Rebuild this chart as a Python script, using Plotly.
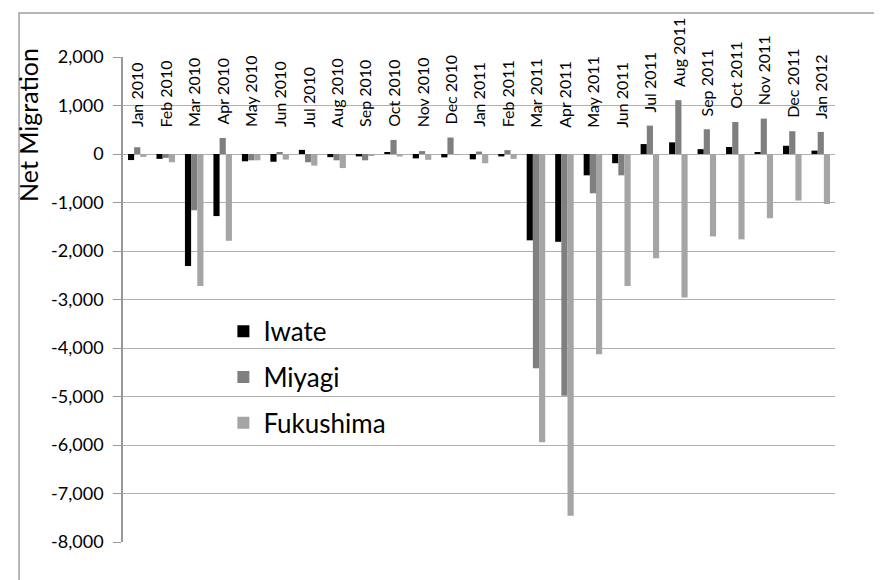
import plotly.graph_objects as go

months = ["Jan 2010", "Feb 2010", "Mar 2010", "Apr 2010", "May 2010", "Jun 2010",
          "Jul 2010", "Aug 2010", "Sep 2010", "Oct 2010", "Nov 2010", "Dec 2010",
          "Jan 2011", "Feb 2011", "Mar 2011", "Apr 2011", "May 2011", "Jun 2011",
          "Jul 2011", "Aug 2011", "Sep 2011", "Oct 2011", "Nov 2011", "Dec 2011",
          "Jan 2012"]
iwate = [-125, -100, -2310, -1280, -150, -160, 85, -65, -50, 40, -90, -70,
         -110, -50, -1780, -1810, -440, -190, 205, 240, 100, 145, 40, 170, 70]
miyagi = [140, -80, -1160, 330, -130, 40, -170, -130, -130, 290, 60, 340,
          50, 80, -4420, -4985, -810, -440, 585, 1110, 510, 660, 730, 470, 455]
fukushima = [-60, -170, -2720, -1790, -130, -115, -240, -290, -35, -50, -120, -20,
             -190, -100, -5945, -7460, -4130, -2720, -2150, -2960, -1700, -1760,
             -1325, -960, -1030]
series_names = ["Iwate", "Miyagi", "Fukushima"]
series_colors = ["#000000", "#7f7f7f", "#a5a5a5"]
tick_vals = [2000, 1000, 0, -1000, -2000, -3000, -4000, -5000, -6000, -7000, -8000]
tick_text = [f"{v:,}" for v in tick_vals]

FONT = "Lato"

fig = go.Figure()
for name, vals, col in zip(series_names, [iwate, miyagi, fukushima], series_colors):
    fig.add_trace(go.Bar(x=months, y=vals, name=name, marker_color=col,
                         marker_line_width=0, legendgroup=name))

# category labels above each group
for k, m in enumerate(months):
    top = max(iwate[k], miyagi[k], fukushima[k], 0)
    fig.add_annotation(x=m, y=max(top + 250, 530), xref="x", yref="y",
                       text=m, textangle=-90, showarrow=False,
                       xanchor="center", yanchor="bottom", borderpad=0,
                       font=dict(family=FONT, size=16, color="#000000"))

fig.add_annotation(x=-0.1334, y=0.860, xref="paper", yref="paper",
                   text="Net Migration", textangle=-90, showarrow=False,
                   xanchor="center", yanchor="middle",
                   font=dict(family=FONT, size=25, color="#000000"))

fig.add_shape(type="rect", xref="paper", yref="paper",
              x0=-0.146, x1=1.2, y0=-0.3, y1=1.0907,
              line=dict(color="#a0a0a0", width=1.5), fillcolor="rgba(0,0,0,0)",
              layer="below")

fig.update_layout(
    width=882, height=580,
    margin=dict(l=115, r=55, t=49, b=46),
    paper_bgcolor="white", plot_bgcolor="white",
    barmode="group", bargap=0.35, bargroupgap=0,
    font=dict(family=FONT, color="#000000"),
    showlegend=True,
    legend=dict(x=0.141, y=0.483, xanchor="left", yanchor="top",
                bgcolor="rgba(0,0,0,0)", font=dict(family=FONT, size=26),
                traceorder="grouped", tracegroupgap=9),
    xaxis=dict(showticklabels=False, showgrid=False, zeroline=False,
               showline=False, ticks=""),
    yaxis=dict(range=[-8000, 2000], tickvals=tick_vals, ticktext=tick_text,
               showgrid=True, gridcolor="#b0b0b0", gridwidth=1,
               zeroline=True, zerolinecolor="#b0b0b0", zerolinewidth=1,
               showline=True, linecolor="#999999", linewidth=1.5,
               ticks="outside", ticklen=8, tickcolor="#999999",
               ticklabelstandoff=6,
               tickfont=dict(family=FONT, size=18, color="#000000")),
)

fig.write_html("out.html")
